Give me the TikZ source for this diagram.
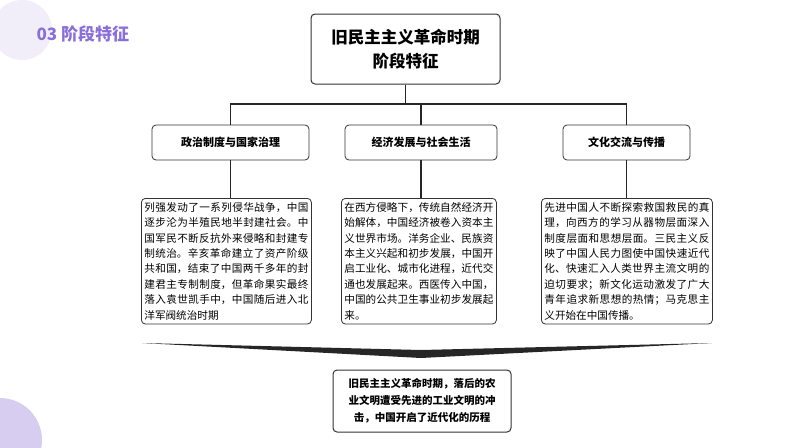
\documentclass[tikz,border=0pt]{standalone}
\usepackage{fontspec}
\setmainfont{Noto Sans CJK SC}
\XeTeXlinebreaklocale "zh"
\XeTeXlinebreakskip=0pt plus 1pt
\definecolor{ttlc}{HTML}{8B6FD8}
\begin{document}
\begin{tikzpicture}[x=1pt,y=-1pt,
 box/.style={draw=black!80,line width=0.8pt,rounded corners=4pt,fill=white},
 hdr/.style={box,font=\fontsize{11}{13}\selectfont\bfseries,inner sep=0pt},
 txt/.style={box,font=\fontsize{10.6}{15.4}\selectfont,align=justify,anchor=north west,inner xsep=3pt,inner ysep=4pt,text width=#1},
 ln/.style={line width=1.6pt,black!85}]
\useasboundingbox (0,0) rectangle (794,447);
\fill[ttlc!12] (22,30) circle (30);
\fill[ttlc!35] (0,440) circle (42);
\node[anchor=west,text=ttlc,font=\fontsize{17}{20}\selectfont\bfseries] (ttl) at (33,34) {03 阶段特征};
\node[box,line width=1pt,minimum width=189,minimum height=70,align=center,font=\fontsize{16.5}{24}\selectfont\bfseries] (top) at (405.5,49) {旧民主主义革命时期\\阶段特征};
\node[hdr,minimum width=157,minimum height=35] (h1) at (230.5,142.5) {政治制度与国家治理};
\node[hdr,minimum width=152,minimum height=35] (h2) at (421,142.5) {经济发展与社会生活};
\node[hdr,minimum width=127,minimum height=35] (h3) at (626.5,142.5) {文化交流与传播};
\coordinate (j) at (405.5,104);
\draw[ln] (top.south) -- (j);
\draw[ln] (h1.north) |- (j) -| (h3.north);
\draw[ln] (h2.north) -- (h2.north |- j);
\node[txt=164] (t1) at (141,198) {列强发动了一系列侵华战争，中国逐步沦为半殖民地半封建社会。中国军民不断反抗外来侵略和封建专制统治。辛亥革命建立了资产阶级共和国，结束了中国两千多年的封建君主专制制度，但革命果实最终落入袁世凯手中，中国随后进入北洋军阀统治时期};
\node[txt=149] (t2) at (341,198) {在西方侵略下，传统自然经济开始解体，中国经济被卷入资本主义世界市场。洋务企业、民族资本主义兴起和初步发展，中国开启工业化、城市化进程，近代交通也发展起来。西医传入中国，中国的公共卫生事业初步发展起来。};
\node[txt=165] (t3) at (541,198) {先进中国人不断探索救国救民的真理，向西方的学习从器物层面深入制度层面和思想层面。三民主义反映了中国人民力图使中国快速近代化、快速汇入人类世界主流文明的迫切要求；新文化运动激发了广大青年追求新思想的热情；马克思主义开始在中国传播。};
\draw[ln] (h1.south) -- (h1.south |- t1.north);
\draw[ln] (h2.south) -- (h2.south |- t2.north);
\draw[ln] (h3.south) -- (h3.south |- t3.north);
\coordinate (bl) at (142,343);
\coordinate (br) at (712,343);
\coordinate (bm) at (421,358);
\fill[black!85] (bl) -- (bm) -- (br) -- (421,350) -- cycle;
\node[box,line width=1pt,minimum width=178,minimum height=62,align=center,font=\fontsize{10.5}{17}\selectfont\bfseries] (bot) at (422,401) {旧民主主义革命时期，落后的农\\业文明遭受先进的工业文明的冲\\击，中国开启了近代化的历程};
\end{tikzpicture}
\end{document}
